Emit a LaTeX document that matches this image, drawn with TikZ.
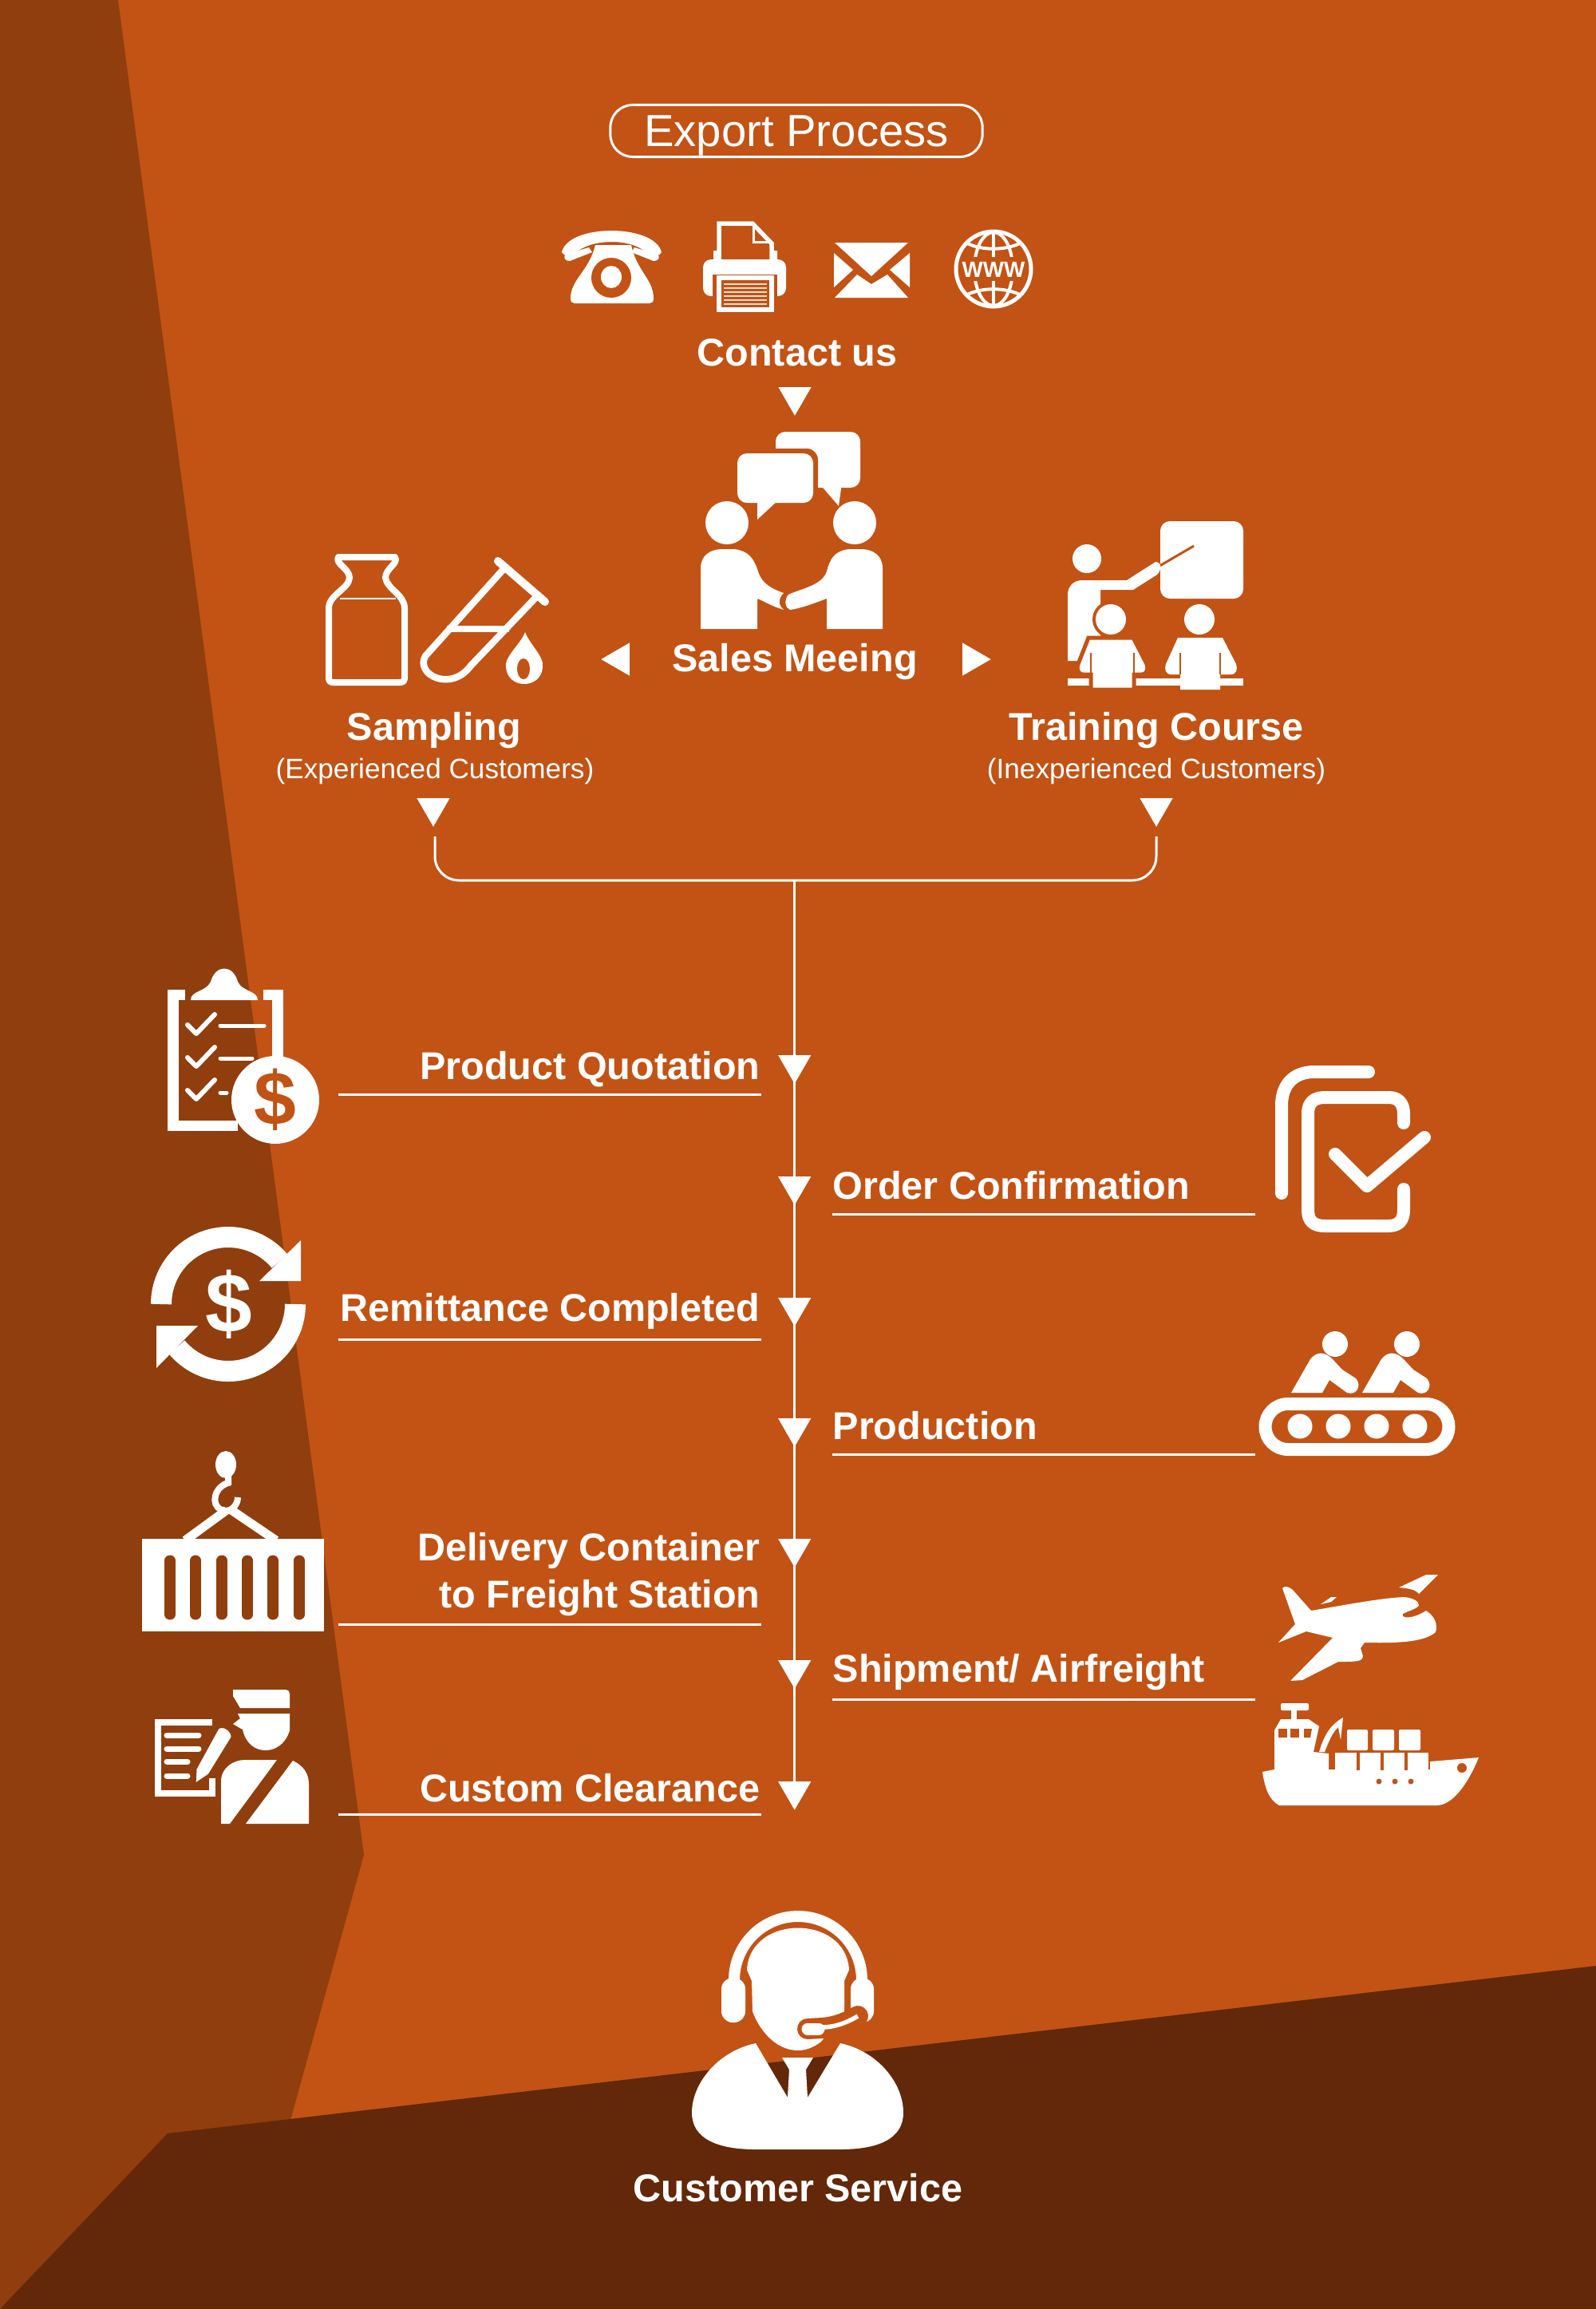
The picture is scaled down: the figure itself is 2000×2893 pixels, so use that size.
\documentclass[tikz,border=0pt]{standalone}
\usepackage{fontspec}
\setmainfont{Liberation Sans}
\usetikzlibrary{shapes.geometric}
\definecolor{orangeback}{HTML}{C25315}
\definecolor{rustband}{HTML}{903E0D}
\definecolor{brownfloor}{HTML}{622809}
\tikzset{
title/.style = {draw = white, line width = .03cm, rounded corners = .28cm, minimum width = 4.66cm,
   minimum height = .65cm, inner sep = 0pt},
titletext/.style = {text = white, font = \fontsize{16}{18}\selectfont, inner sep = 0pt},
heading/.style = {text = white, font = \bfseries\fontsize{13.8}{16}\selectfont, inner sep = 0pt},
subheading/.style = {text = white, font = \fontsize{10}{12}\selectfont, inner sep = 0pt},
marker/.style = {regular polygon, regular polygon sides = 3, fill = white, inner sep = 0pt,
   outer sep = 0pt, minimum size = .475cm, shape border rotate = 180},
trunk/.style = {draw = white, line width = .035cm},
bracket/.style = {draw = white, line width = .03cm, rounded corners = .3cm},
underline/.style = {draw = white, line width = .03cm},
icon/.style = {fill = white},
iconline/.style = {draw = white, line cap = round, line join = round},
glyph/.style = {text = white, font = \bfseries, inner sep = 0pt}
}

\begin{document}
\begin{tikzpicture}[x = 0.01cm, y = -0.01cm]

%% The background
\useasboundingbox (0,0) rectangle (2000,2893);
\fill [orangeback] (0,0) rectangle (2000,2893);
\fill [rustband] (0,0) -- (148,0) -- (456,2324) -- (363,2660) -- (363,2893) -- (0,2893) -- cycle;
\fill [brownfloor] (0,2893) -- (210,2673) -- (2000,2463) -- (2000,2893) -- cycle;

%% Title and first row
\node [title] (export) at (998,164) {};
\node [titletext, anchor = base] (exporttext) at (998,183) {Export Process};

%% Telephone
\fill [icon] (704,316) .. controls (712,280) and (820,280) .. (829,316) .. controls (828,322) and (818,320) .. (804,312) .. controls (785,300) and (748,300) .. (728,312) .. controls (716,320) and (706,322) .. (704,316) -- cycle;
\fill [icon] (708,319) -- (738,310) -- (742,316) -- (714,327) .. controls (708,327) and (706,323) .. (708,319) -- cycle;
\fill [icon] (825,319) -- (795,310) -- (791,316) -- (819,327) .. controls (825,327) and (827,323) .. (825,319) -- cycle;
\fill [icon] (746,307) -- (791,307) .. controls (798,340) and (819,350) .. (819,374) .. controls (819,378) and (817,380) .. (814,380) -- (720,380) .. controls (717,380) and (715,378) .. (715,374) .. controls (715,350) and (738,340) .. (746,307) -- cycle;
\fill [orangeback] (766,348) ellipse [x radius = 25, y radius = 25];
\fill [icon] (766,347) ellipse [x radius = 13, y radius = 14];

%% Fax
\draw [white, line width = .055cm] (901,328) -- (901,280) -- (943,280) -- (967,305) -- (967,328);
\draw [white, line width = .03cm] (944,282) -- (944,303) -- (964,303);
\fill [icon] (894,314) -- (901,314) -- (901,326) -- (967,326) -- (967,314) -- (974,314) -- (974,326) -- (894,326) -- cycle;
\fill [icon, rounded corners = .1cm] (881,325) rectangle (985,371);
\fill [orangeback] (893,344) rectangle (974,391);
\draw [white, line width = .055cm] (901,348) rectangle (967,388);
\foreach \ypos in {356,361,366,371,376,381}
   \draw [white!80!orangeback, line width = .015cm] (907,\ypos) -- (961,\ypos);

%% Envelope
\fill [icon] (1046,304) -- (1138,304) -- (1092,346) -- cycle;
\fill [icon] (1045,317) -- (1069,338) -- (1045,360) -- cycle;
\fill [icon] (1140,317) -- (1115,338) -- (1140,360) -- cycle;
\fill [icon] (1046,373) -- (1074,344) -- (1092,356) -- (1112,344) -- (1138,373) -- cycle;

%% Globe
\draw [white, line width = .04cm] (1245,337) ellipse [x radius = 24, y radius = 46];
\draw [white, line width = .04cm] (1245,291) -- (1245,383);
\draw [white, line width = .04cm] (1212,305) .. controls (1232,314) and (1258,314) .. (1278,305);
\draw [white, line width = .04cm] (1212,369) .. controls (1232,360) and (1258,360) .. (1278,369);
\fill [orangeback] (1198,322) rectangle (1292,352);
\draw [white, line width = .05cm] (1245,337) circle [radius = 47];
\node [text = white, font = \bfseries\fontsize{7.9}{9}\selectfont, inner sep = 0pt, anchor = base] (www) at (1245,347) {WWW};

%% Top labels and arrows
\node [heading, anchor = base] (contact) at (999,458) {Contact us};
\node [marker] (contactm) at (996,497) {};
\node [heading, anchor = base] (sales) at (996,841) {Sales Meeing};
\node [marker, shape border rotate = 90] (salesl) at (777,826) {};
\node [marker, shape border rotate = -90] (salesr) at (1218,826) {};
\node [heading, anchor = base] (sampling) at (544,927) {Sampling};
\node [subheading, anchor = base] (samplingsub) at (545,975) {(Experienced Customers)};
\node [heading, anchor = base] (training) at (1449,927) {Training Course};
\node [subheading, anchor = base] (trainingsub) at (1449,975) {(Inexperienced Customers)};
\node [marker] (samplingm) at (543,1012) {};
\node [marker] (trainingm) at (1449,1012) {};

%% Speech bubbles
\fill [icon, rounded corners = .12cm] (972,541) rectangle (1078,611);
\fill [icon] (1026,605) -- (1055,605) -- (1051,634) -- cycle;
\fill [orangeback, rounded corners = .14cm] (918,562) rectangle (1025,635);
\fill [icon, rounded corners = .12cm] (924,568) rectangle (1019,630);
\fill [icon] (949,625) -- (949,651) -- (977,625) -- cycle;

%% Handshake
\fill [icon] (911,655) circle [radius = 27];
\fill [icon] (1071,655) circle [radius = 27];
\fill [icon] (878,788) -- (878,712) .. controls (878,696) and (890,688) .. (905,688) -- (920,688) .. controls (938,690) and (945,700) .. (950,716) .. controls (955,732) and (968,738) .. (982,743) .. controls (975,750) and (975,758) .. (982,764) .. controls (968,760) and (955,752) .. (949,750) -- (949,788) -- cycle;
\fill [icon] (1106,788) -- (1106,712) .. controls (1106,696) and (1094,688) .. (1079,688) -- (1064,688) .. controls (1046,690) and (1040,700) .. (1036,716) .. controls (1030,734) and (1002,738) .. (988,745) .. controls (982,752) and (984,762) .. (990,764) .. controls (1005,762) and (1022,755) .. (1036,750) -- (1036,788) -- cycle;

%% Bottle and test tube
\draw [iconline, line width = .08cm] (424,698) -- (495,698) .. controls (500,706) and (483,712) .. (483,724) .. controls (485,738) and (507,745) .. (507,762) -- (507,849) .. controls (507,854) and (505,855) .. (500,855) -- (418,855) .. controls (414,855) and (412,854) .. (412,849) -- (412,762) .. controls (412,745) and (437,738) .. (438,724) .. controls (438,712) and (419,706) .. (424,698) -- cycle;
\draw [white, line width = .02cm] (426,750) -- (496,750);
\draw [iconline, line width = .1cm] (624,703) -- (683,754);
\draw [iconline, line width = .085cm] (632,712) -- (533,822) .. controls (520,845) and (565,868) .. (590,834) -- (672,748);
\draw [white, line width = .08cm] (560,788) -- (638,788);
\fill [icon] (658,792) .. controls (664,808) and (682,822) .. (680,836) .. controls (678,864) and (636,864) .. (634,836) .. controls (632,822) and (652,808) .. (658,792) -- cycle;
\fill [orangeback] (656,838) ellipse [x radius = 8, y radius = 13];

%% Classroom
\fill [icon, rounded corners = .12cm] (1454,653) rectangle (1558,750);
\draw [orangeback, line width = .03cm] (1448,712) -- (1496,684);
\fill [icon] (1362,700) circle [radius = 18];
\fill [icon] (1338,828) -- (1338,745) .. controls (1338,735) and (1345,727) .. (1356,727) -- (1412,727) -- (1448,704) .. controls (1456,704) and (1456,714) .. (1450,720) -- (1420,739) -- (1379,739) -- (1379,828) -- cycle;
\fill [orangeback] (1392,776) circle [radius = 23];
\fill [icon] (1338,850) rectangle (1558,859);
\fill [icon] (1392,776) circle [radius = 19];
\fill [icon] (1503,776) circle [radius = 19];
\fill [icon, draw = orangeback, line width = .05cm] (1367,864) -- (1367,845) -- (1358,845) .. controls (1350,845) and (1349,838) .. (1351,832) -- (1364,799) -- (1420,799) -- (1437,832) .. controls (1439,838) and (1438,845) .. (1430,845) -- (1421,845) -- (1421,864) -- cycle;
\fill [icon] (1479,864) -- (1479,845) -- (1468,845) .. controls (1460,845) and (1459,838) .. (1461,832) -- (1476,799) -- (1532,799) -- (1549,832) .. controls (1551,838) and (1550,845) .. (1542,845) -- (1529,845) -- (1529,864) -- cycle;
\draw [orangeback, line width = .025cm] (1367,818) -- (1367,845);
\draw [orangeback, line width = .025cm] (1421,818) -- (1421,845);
\draw [orangeback, line width = .025cm] (1479,818) -- (1479,845);
\draw [orangeback, line width = .025cm] (1529,818) -- (1529,845);

%% The flow
\coordinate (bracketl) at (545,1048);
\coordinate (bracketr) at (1449,1048);
\coordinate (junction) at (995.7,1103);
\path [bracket] (bracketl) |- (junction) -| (bracketr);

\node [marker] (quotem) at (995.7,1334) {};
\node [marker] (orderm) at (995.7,1486) {};
\node [marker] (remitm) at (995.7,1638) {};
\node [marker] (prodm) at (995.7,1789) {};
\node [marker] (deliverym) at (995.7,1940) {};
\node [marker] (shipm) at (995.7,2092) {};
\node [marker] (customm) at (995.7,2244) {};
\path [trunk] (junction) edge (customm);

%% Left hand steps
\node [heading, anchor = base east] (quote) at (953,1352) {Product Quotation};
\coordinate (quotel) at (424,1371);
\coordinate (quoter) at (954,1371);
\path [underline] (quotel) edge (quoter);

\node [heading, anchor = base east] (remit) at (953,1655) {Remittance Completed};
\coordinate (remitl) at (424,1678);
\coordinate (remitr) at (954,1678);
\path [underline] (remitl) edge (remitr);

\node [heading, anchor = base east] (delivery1) at (953,1955) {Delivery Container};
\node [heading, anchor = base east] (delivery2) at (953,2014) {to Freight Station};
\coordinate (deliveryl) at (424,2035);
\coordinate (deliveryr) at (954,2035);
\path [underline] (deliveryl) edge (deliveryr);

\node [heading, anchor = base east] (custom) at (953,2257) {Custom Clearance};
\coordinate (customl) at (424,2273);
\coordinate (customr) at (954,2273);
\path [underline] (customl) edge (customr);

%% Right hand steps
\node [heading, anchor = base west] (order) at (1043,1502) {Order Confirmation};
\coordinate (orderl) at (1043,1521);
\coordinate (orderr) at (1573,1521);
\path [underline] (orderl) edge (orderr);

\node [heading, anchor = base west] (prod) at (1043,1803) {Production};
\coordinate (prodl) at (1043,1822);
\coordinate (prodr) at (1573,1822);
\path [underline] (prodl) edge (prodr);

\node [heading, anchor = base west] (ship) at (1043,2107) {Shipment/ Airfreight};
\coordinate (shipl) at (1043,2129);
\coordinate (shipr) at (1573,2129);
\path [underline] (shipl) edge (shipr);

%% Clipboard
\draw [white, line width = .13cm] (298,1410) -- (217,1410) -- (217,1246) -- (232,1246);
\draw [white, line width = .13cm] (330,1246) -- (348,1246) -- (348,1325);
\fill [icon] (239,1253) .. controls (239,1241) and (258,1243) .. (264,1230) .. controls (270,1208) and (292,1208) .. (298,1230) .. controls (304,1243) and (323,1241) .. (323,1253) -- cycle;
\draw [iconline, line width = .06cm] (235,1284) -- (246,1295) -- (269,1271);
\draw [iconline, line width = .06cm] (235,1325) -- (246,1336) -- (269,1312);
\draw [iconline, line width = .06cm] (235,1366) -- (246,1377) -- (269,1353);
\draw [iconline, line width = .05cm] (276,1285) -- (331,1285);
\draw [iconline, line width = .05cm] (276,1326) -- (316,1326);
\draw [iconline, line width = .05cm] (276,1369) -- (284,1369);
\fill [icon] (345,1378) circle [radius = 55];
\node [text = orangeback, font = \bfseries\fontsize{27}{30}\selectfont, inner sep = 0pt] (coin) at (345,1378) {\$};

%% Payment cycle
\draw [white, line width = .26cm] (202,1634) arc [start angle = 180, end angle = 320, radius = 84];
\draw [white, line width = .26cm] (370,1634) arc [start angle = 0, end angle = 140, radius = 84];
\fill [icon] (377,1554) -- (377,1605) -- (325,1605) -- cycle;
\fill [icon] (196,1714) -- (196,1661) -- (248,1661) -- cycle;
\node [glyph, font = \bfseries\fontsize{30}{34}\selectfont] (cycle) at (287,1634) {\$};

%% Container
\draw [white, line width = .11cm] (232,1930) -- (284,1892);
\draw [white, line width = .11cm] (346,1930) -- (290,1892);
\fill [icon] (178,1928) rectangle (406,2044);
\foreach \xpos in {213,245,278,310,342,375}
   \draw [rustband, line width = .13cm, line cap = round] (\xpos,1955) -- (\xpos,2023);
\fill [icon] (283,1835) ellipse [x radius = 13, y radius = 17];
\draw [white, line width = .08cm] (286,1848) -- (286,1858) .. controls (270,1862) and (262,1885) .. (278,1892) .. controls (290,1896) and (298,1885) .. (298,1876);

%% Customs officer
\draw [white, line width = .08cm] (266,2228) -- (266,2247) -- (198,2247) -- (198,2158) -- (266,2158);
\draw [iconline, line width = .07cm] (209,2174) -- (249,2174);
\draw [iconline, line width = .07cm] (209,2191) -- (249,2191);
\draw [iconline, line width = .07cm] (209,2207) -- (235,2207);
\draw [iconline, line width = .07cm] (209,2225) -- (235,2225);
\fill [icon, draw = rustband, line width = .03cm] (273,2165) .. controls (280,2160) and (292,2168) .. (291,2177) -- (262,2224) -- (244,2236) -- (245,2216) -- cycle;
\fill [icon] (292,2117) -- (358,2117) .. controls (361,2117) and (363,2119) .. (363,2122) -- (363,2140) -- (301,2140) -- (292,2125) -- cycle;
\fill [icon] (298,2147) -- (363,2147) -- (363,2168) .. controls (358,2185) and (345,2193) .. (333,2193) .. controls (320,2193) and (308,2185) .. (304,2167) -- (292,2160) -- (301,2153) -- cycle;
\fill [icon] (277,2285) -- (277,2232) .. controls (277,2215) and (292,2205) .. (307,2205) -- (347,2205) -- (288,2285) -- cycle;
\fill [icon] (367,2206) .. controls (380,2212) and (387,2222) .. (387,2235) -- (387,2285) -- (308,2285) -- cycle;

%% Confirmed order
\draw [iconline, line width = .16cm] (1606,1495) -- (1606,1385) .. controls (1606,1358) and (1622,1343) .. (1647,1343) -- (1715,1343);
\draw [iconline, line width = .16cm] (1759,1407) -- (1759,1395) .. controls (1759,1382) and (1752,1375) .. (1740,1375) -- (1660,1375) .. controls (1646,1375) and (1639,1382) .. (1639,1395) -- (1639,1516) .. controls (1639,1530) and (1646,1536) .. (1660,1536) -- (1740,1536) .. controls (1752,1536) and (1759,1530) .. (1759,1516) -- (1759,1490);
\draw [iconline, line width = .16cm] (1673,1446) -- (1713,1486) -- (1785,1425);

%% Conveyor
\draw [white, line width = .16cm] (1614,1759) -- (1787,1759) arc [start angle = -90, end angle = 90, radius = 28.5] -- (1614,1816) arc [start angle = 90, end angle = 270, radius = 28.5] -- cycle;
\fill [icon] (1629,1787) circle [radius = 15.5];
\fill [icon] (1677,1787) circle [radius = 15.5];
\fill [icon] (1725,1787) circle [radius = 15.5];
\fill [icon] (1773,1787) circle [radius = 15.5];
\fill [icon] (1673,1684) circle [radius = 16];
\fill [icon] (1763,1684) circle [radius = 16];
\fill [icon] (1618,1745) -- (1642,1703) .. controls (1650,1693) and (1660,1693) .. (1670,1703) -- (1682,1716) -- (1699,1727) .. controls (1707,1736) and (1700,1749) .. (1688,1745) -- (1666,1729) -- (1657,1745) -- cycle;
\fill [icon] (1707,1745) -- (1731,1703) .. controls (1739,1693) and (1749,1693) .. (1759,1703) -- (1771,1716) -- (1788,1727) .. controls (1796,1736) and (1789,1749) .. (1777,1745) -- (1755,1729) -- (1746,1745) -- cycle;

%% Aeroplane
\fill [icon] (1607,1990) .. controls (1610,1986) and (1615,1988) .. (1620,1992) -- (1643,2018) .. controls (1680,2012) and (1730,2002) .. (1760,2001) .. controls (1770,2002) and (1778,2006) .. (1778,2011) .. controls (1776,2016) and (1765,2018) .. (1758,2022) .. controls (1755,2028) and (1770,2029) .. (1787,2018) .. controls (1798,2025) and (1802,2035) .. (1799,2045) .. controls (1785,2057) and (1755,2059) .. (1710,2058) -- (1705,2065) -- (1708,2075) .. controls (1707,2082) and (1700,2082) .. (1677,2082) -- (1632,2105) -- (1617,2106) -- (1670,2052) -- (1637,2044) -- (1602,2058) -- (1623,2035) -- cycle;
\fill [icon] (1753,1989) -- (1787,1973) -- (1802,1973) -- (1778,1997) .. controls (1775,1992) and (1765,1990) .. (1753,1989) -- cycle;
\fill [icon] (1655,2010) -- (1668,2001) -- (1675,2001) -- (1668,2007) -- cycle;

%% Ship
\fill [icon, rounded corners = .02cm] (1605,2134) rectangle (1640,2143);
\fill [icon] (1618,2143) rectangle (1625,2154);
\fill [icon] (1582,2220) -- (1597,2217) -- (1597,2168) -- (1605,2154) -- (1640,2154) -- (1653,2163) -- (1646,2195) -- (1665,2197) -- (1665,2217) -- (1792,2217) -- (1792,2207) -- (1853,2202) .. controls (1845,2222) and (1825,2262) .. (1800,2262) -- (1603,2262) .. controls (1590,2255) and (1585,2240) .. (1582,2220) -- cycle;
\fill [orangeback] (1602,2166) rectangle (1613,2177);
\fill [orangeback] (1617,2166) rectangle (1628,2177);
\fill [orangeback] (1634,2166) -- (1644,2166) -- (1642,2177) -- (1634,2177) -- cycle;
\fill [icon] (1653,2195) .. controls (1658,2178) and (1665,2162) .. (1683,2152) -- (1680,2180) -- (1677,2164) .. controls (1670,2170) and (1665,2182) .. (1660,2195) -- cycle;
\fill [icon, rounded corners = .02cm] (1688,2167) rectangle (1714,2193);
\fill [icon, rounded corners = .02cm] (1720,2167) rectangle (1747,2193);
\fill [icon, rounded corners = .02cm] (1753,2167) rectangle (1780,2193);
\fill [icon] (1673,2196) rectangle (1790,2218);
\draw [orangeback, line width = .035cm] (1702,2196) -- (1702,2218);
\draw [orangeback, line width = .035cm] (1732,2196) -- (1732,2218);
\draw [orangeback, line width = .035cm] (1762,2196) -- (1762,2218);
\fill [orangeback] (1832,2215) circle [radius = 6];
\fill [orangeback] (1728,2232) circle [radius = 3.5];
\fill [orangeback] (1748,2232) circle [radius = 3.5];
\fill [orangeback] (1768,2232) circle [radius = 3.5];

%% Agent
\draw [white, line width = .14cm] (920,2481) arc [start angle = 180, end angle = 360, radius = 80];
\fill [icon, rounded corners = .14cm] (904,2478) rectangle (934,2534);
\fill [icon, rounded corners = .14cm] (1066,2478) rectangle (1095,2534);
\fill [icon] (936,2468) .. controls (940,2398) and (1060,2398) .. (1064,2468) -- (1058,2482) -- (1058,2522) -- (1029,2558) .. controls (1020,2565) and (1010,2569) .. (1000,2569) .. controls (970,2569) and (950,2540) .. (943,2520) -- (942,2482) -- cycle;
\draw [orangeback, line width = .26cm, line cap = round] (1012,2542) -- (1030,2541) .. controls (1045,2540) and (1060,2535) .. (1075,2526);
\draw [white, line width = .055cm] (1030,2540) .. controls (1045,2540) and (1060,2535) .. (1075,2526);
\draw [white, line width = .15cm, line cap = round] (1012,2542) -- (1026,2542);
\fill [icon] (947,2560) -- (987,2628) -- (989,2593) -- (980,2578) -- (1019,2578) -- (1010,2593) -- (1012,2628) -- (1053,2560) .. controls (1100,2570) and (1132,2610) .. (1132,2647) .. controls (1132,2680) and (1100,2693) .. (1053,2693) -- (947,2693) .. controls (900,2693) and (867,2680) .. (867,2647) .. controls (867,2610) and (900,2570) .. (947,2560) -- cycle;
\node [heading, anchor = base] (service) at (1000,2758) {Customer Service};

\end{tikzpicture}
\end{document}
